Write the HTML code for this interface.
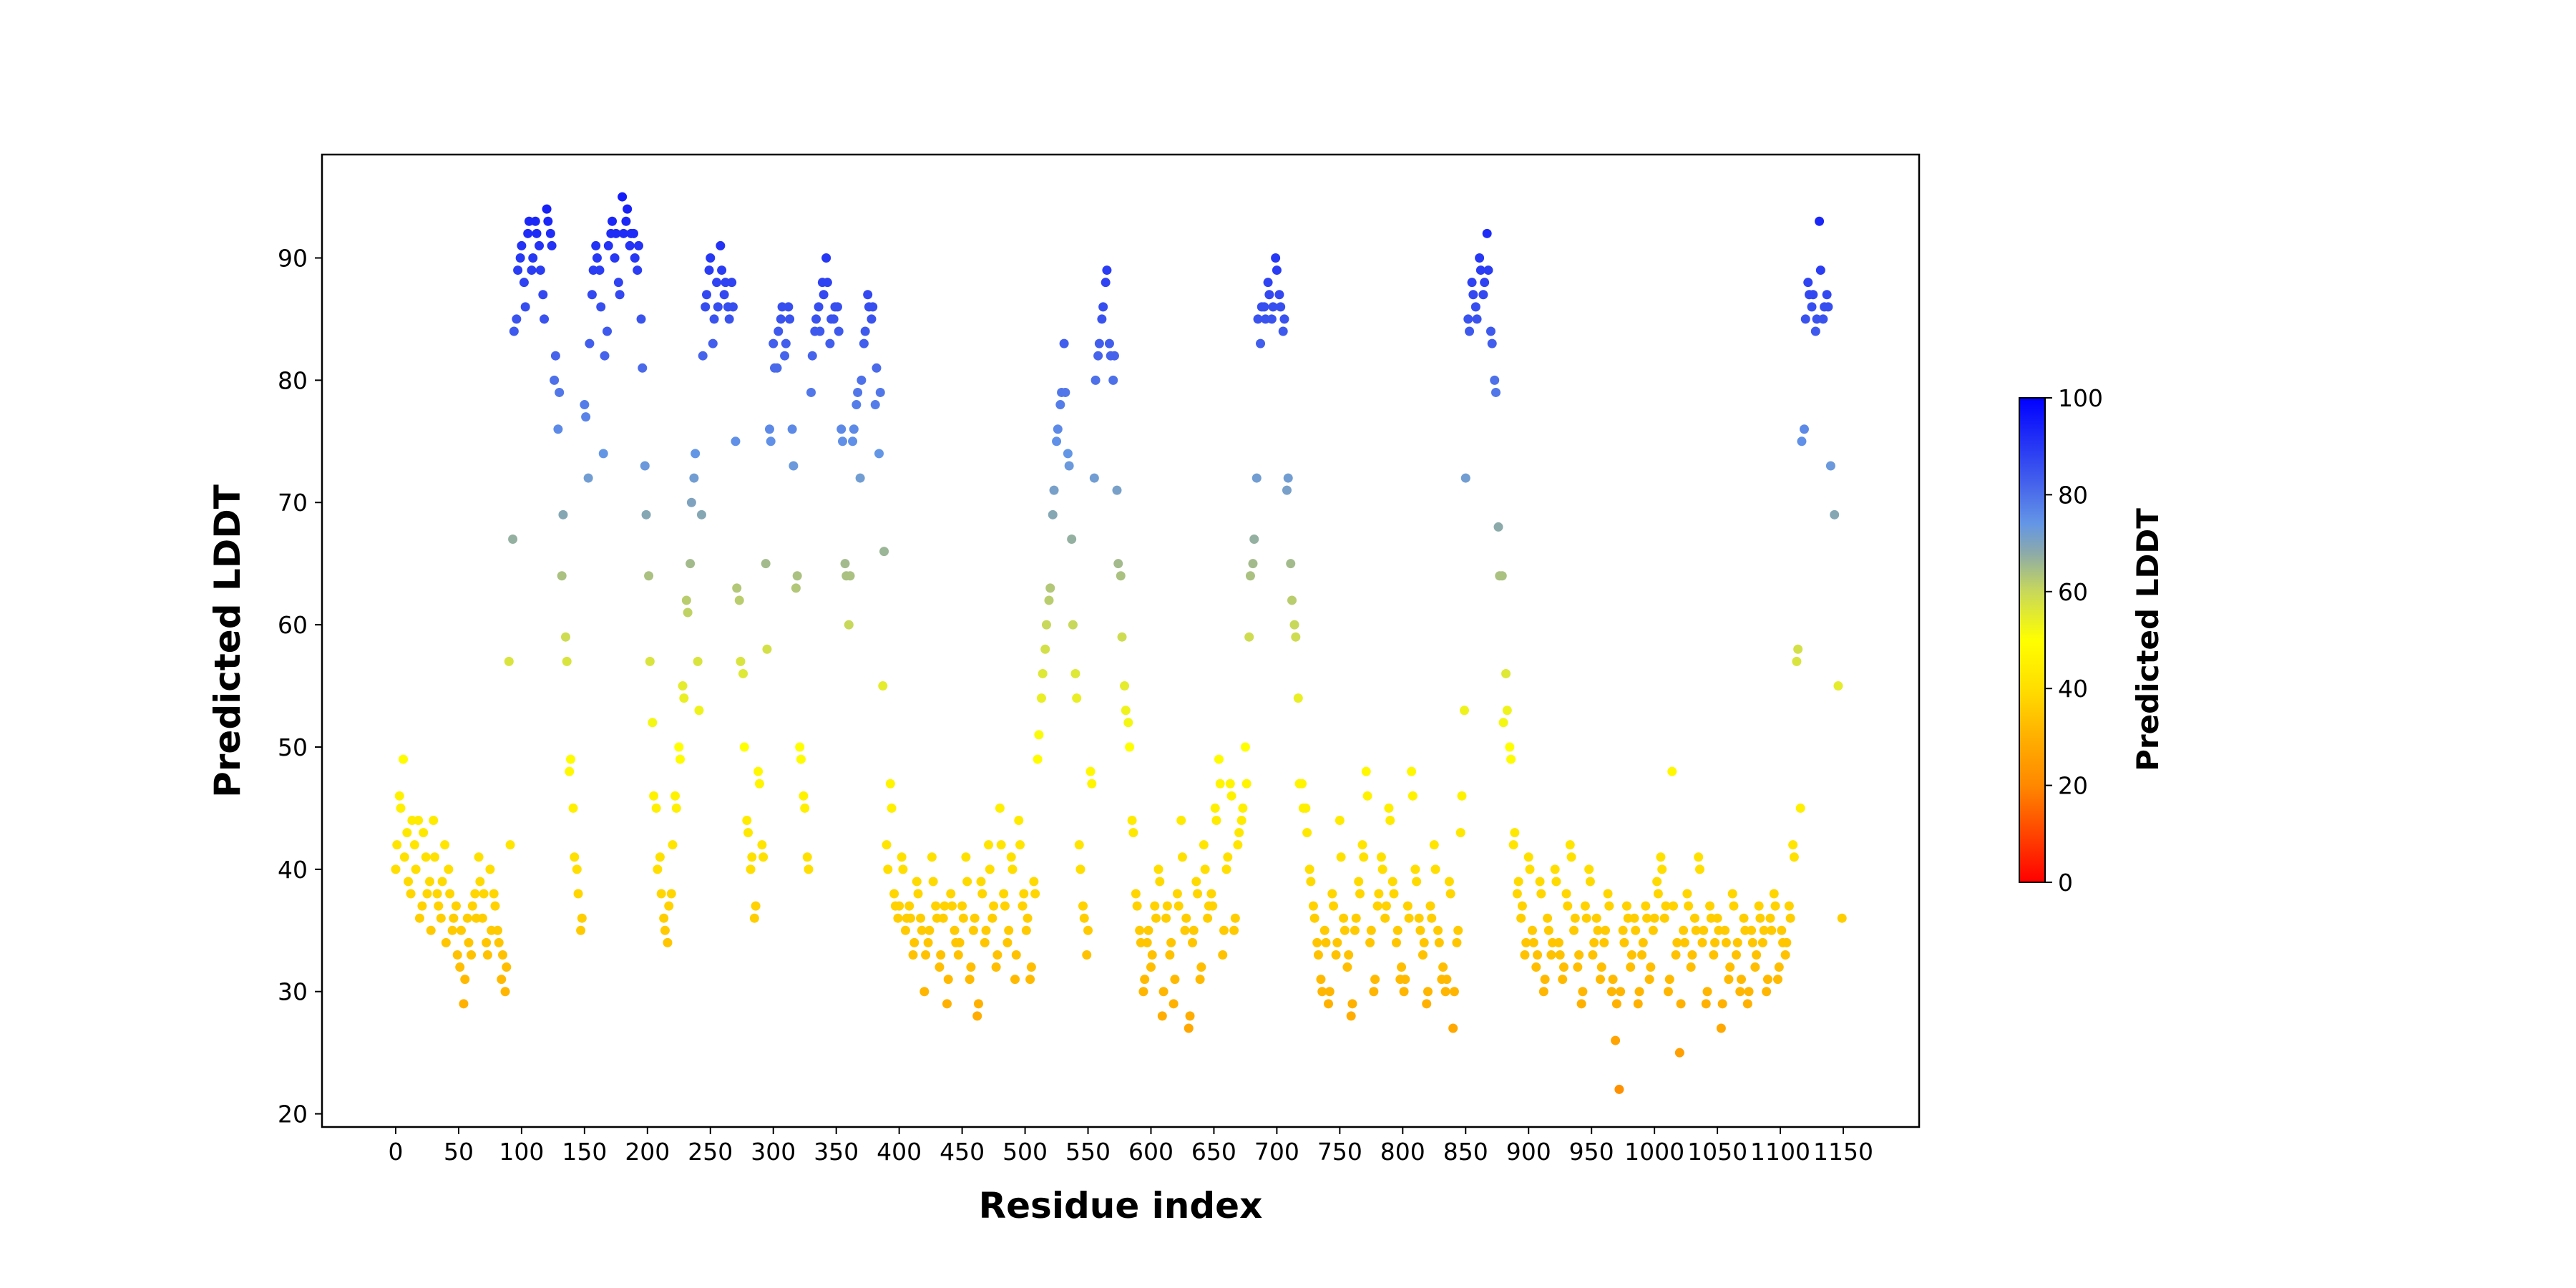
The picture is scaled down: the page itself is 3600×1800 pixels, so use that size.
<!DOCTYPE html>
<html><head><meta charset="utf-8">
<style>
html,body{margin:0;padding:0;background:#fff;}
svg{display:block;font-family:"DejaVu Sans","Liberation Sans",sans-serif;}
</style></head>
<body>
<svg id="chart" width="3600" height="1800" viewBox="0 0 3600 1800" xmlns="http://www.w3.org/2000/svg">
<defs>
<linearGradient id="cbgrad" x1="0" y1="1" x2="0" y2="0">
<stop offset="0" stop-color="#ff0000"/>
<stop offset="0.2" stop-color="#ff8800"/>
<stop offset="0.3" stop-color="#ffb000"/>
<stop offset="0.4" stop-color="#ffde00"/>
<stop offset="0.5" stop-color="#ffff00"/>
<stop offset="0.6" stop-color="#c8d85a"/>
<stop offset="0.68" stop-color="#8caaaa"/>
<stop offset="0.74" stop-color="#6496e6"/>
<stop offset="0.82" stop-color="#4664eb"/>
<stop offset="1" stop-color="#0000ff"/>
</linearGradient>
</defs>
<rect width="3600" height="1800" fill="#fff"/>
<g id="points"></g>
<rect x="450" y="216" width="2232" height="1359" fill="none" stroke="#000" stroke-width="2.5"/>
<g id="xticks"></g>
<g id="yticks"></g>
<text x="1566" y="1702" text-anchor="middle" font-size="50" font-weight="bold">Residue index</text>
<text transform="translate(335,896) rotate(-90)" text-anchor="middle" font-size="50" font-weight="bold">Predicted LDDT</text>
<rect x="2822" y="556" width="36" height="677" fill="url(#cbgrad)" stroke="#000" stroke-width="2"/>
<g id="cbticks"></g>
<text transform="translate(3016,894) rotate(-90)" text-anchor="middle" font-size="42" font-weight="bold">Predicted LDDT</text>
</svg>
<script>
const residueStep = 3;
const startA = 0;
const plddtA = [
40,46,49,43,38,42,44,37,41,39,
44,38,36,42,40,35,37,32,29,36,
33,38,41,36,34,40,38,35,31,30,
57,67,85,90,88,92,89,93,91,87,
94,92,80,76,64,59,48,45,40,35,
78,72,87,91,89,74,84,92,90,88,
95,93,91,92,89,85,73,64,52,45,
41,36,34,38,46,50,55,62,65,72,
57,69,86,89,83,88,91,87,86,88,
75,62,56,44,40,36,48,42,65,76,
83,81,85,82,86,76,63,50,46,41,
79,84,86,88,90,83,85,86,76,65,
60,75,78,72,83,87,85,78,74,55,
42,47,38,36,41,35,37,33,39,36,
30,34,41,37,32,36,29,38,35,33,
37,41,31,35,28,39,34,42,36,32,
45,38,34,41,31,44,37,35,31,39,
49,54,58,62,69,75,78,83,74,67,
56,42,37,33,48,72,82,85,88,83,
80,71,64,55,52,44,38,35,30,34,
32,37,40,28,36,33,29,38,44,35,
27,34,39,31,42,36,38,45,49,33,
40,47,35,42,44,50,59,65,72,83,
86,88,85,90,87,84,71,65,60,54,
47,45,40,37,34,31,35,29,38,33,
44,36,32,28,35,39,42,48,34,30,
37,41,36,45,39,34,31,30,37,48,
40,36,33,29,37,42,35,31,30,39,
27,34,43,53,85,88,86,90,87,92,
84,80,68,64,56,50,42,38,36,33,
41,35,32,39,30,36,33,40,34,31,
38,42,35,32,29,37,40,33,36,31,
34,38,30,26,22,35,37,32,36,29,
33,37,31,35,39,41,36,30,48,33,
25,35,38,32,36,41,34,29,37,33,
36,27,35,31,38,33,30,36,29,35,
32,37,34,30,36,38,31,35,33,37,
42,57,45,76,88,86,84,93,85,87,
73,69,55,36
];
const startB = 1;
const plddtB = [
42,45,41,39,44,40,36,43,38,35,
41,37,39,34,38,36,33,35,31,34,
37,36,39,38,33,35,37,34,33,32,
42,84,89,91,86,93,90,92,89,85,
93,91,82,79,69,57,49,41,38,36,
77,83,89,90,86,82,91,93,92,87,
92,94,92,90,91,81,69,57,46,40,
38,35,37,42,45,49,54,61,70,74,
53,82,87,90,85,86,89,88,85,86,
63,57,50,43,41,37,47,41,58,75,
81,84,86,83,85,73,64,49,45,40,
82,85,84,87,88,85,86,84,75,64,
64,76,79,80,84,86,86,81,79,66,
40,45,37,37,40,36,36,34,38,35,
33,35,39,36,33,37,31,37,34,34,
36,39,32,36,29,38,35,40,37,33,
42,37,35,40,33,42,38,36,32,38,
51,56,60,63,71,76,79,79,73,60,
54,40,36,35,47,80,83,86,89,82,
82,65,59,53,50,43,37,34,31,35,
33,36,39,30,37,34,31,37,41,36,
28,35,38,32,40,37,37,44,47,35,
41,46,36,43,45,47,64,67,85,86,
85,87,86,89,86,85,72,62,59,47,
45,43,39,36,33,30,34,30,37,34,
41,35,33,29,36,38,41,46,35,31,
38,40,37,44,38,35,32,31,36,46,
39,35,34,30,36,40,34,32,31,38,
30,35,46,72,84,87,85,89,88,89,
83,79,64,52,53,49,43,39,37,34,
40,34,33,38,31,35,34,39,33,32,
37,41,36,33,30,36,39,34,35,32,
35,37,31,29,30,34,36,33,35,30,
34,36,32,36,38,40,37,31,37,34,
29,34,37,33,35,40,35,30,36,34,
35,29,34,32,37,34,31,35,30,34,
33,36,35,31,35,37,32,34,34,36,
41,58,75,85,87,87,85,89,86,86
];
const xTickLabels = [0,50,100,150,200,250,300,350,400,450,500,550,600,650,700,750,800,850,900,950,1000,1050,1100,1150];
const yTickLabels = [20,30,40,50,60,70,80,90];
const cbTickLabels = [0,20,40,60,80,100];

const NS = "http://www.w3.org/2000/svg";
function xScale(r){ return 553 + r * (2576 - 553) / 1150; }
function yScale(v){ return 1556.6 - (v - 20) * (1556.6 - 360.5) / 70; }
function cbScale(v){ return 1233 - v * (1233 - 556) / 100; }
const stops = [[0,[255,0,0]],[20,[255,136,0]],[30,[255,182,0]],[40,[255,222,0]],[50,[255,255,0]],[60,[200,216,90]],[68,[140,170,170]],[74,[100,150,230]],[82,[70,100,235]],[100,[0,0,255]]];
function color(v){
  for (let i=0;i<stops.length-1;i++){
    const a=stops[i], b=stops[i+1];
    if (v<=b[0]){
      const t=(v-a[0])/(b[0]-a[0]);
      const c=a[1].map((x,k)=>Math.round(x+(b[1][k]-x)*t));
      return "rgb("+c.join(",")+")";
    }
  }
  return "rgb(0,0,255)";
}
const gp = document.getElementById("points");
function drawSeries(arr, start){
  arr.forEach((v,i)=>{
    const r = start + i*residueStep;
    const c = document.createElementNS(NS,"circle");
    c.setAttribute("cx", xScale(r));
    c.setAttribute("cy", yScale(v));
    c.setAttribute("r", 6.5);
    c.setAttribute("fill", color(v));
    
    
    gp.appendChild(c);
  });
}
drawSeries(plddtA, startA);
drawSeries(plddtB, startB);
const gx = document.getElementById("xticks");
xTickLabels.forEach(t=>{
  const x = xScale(t);
  const l = document.createElementNS(NS,"line");
  l.setAttribute("x1",x); l.setAttribute("x2",x);
  l.setAttribute("y1",1575); l.setAttribute("y2",1585);
  l.setAttribute("stroke","#000"); l.setAttribute("stroke-width","2");
  
  
  gx.appendChild(l);
  const tx = document.createElementNS(NS,"text");
  tx.setAttribute("x",x); tx.setAttribute("y",1621);
  tx.setAttribute("text-anchor","middle"); tx.setAttribute("font-size","33");
  tx.textContent = t;
  
  
  gx.appendChild(tx);
});
const gy = document.getElementById("yticks");
yTickLabels.forEach(t=>{
  const y = yScale(t);
  const l = document.createElementNS(NS,"line");
  l.setAttribute("x1",440); l.setAttribute("x2",450);
  l.setAttribute("y1",y); l.setAttribute("y2",y);
  l.setAttribute("stroke","#000"); l.setAttribute("stroke-width","2");
  
  
  gy.appendChild(l);
  const tx = document.createElementNS(NS,"text");
  tx.setAttribute("x",430); tx.setAttribute("y",y+12);
  tx.setAttribute("text-anchor","end"); tx.setAttribute("font-size","33");
  tx.textContent = t;
  
  
  gy.appendChild(tx);
});
const gc = document.getElementById("cbticks");
cbTickLabels.forEach(t=>{
  const y = cbScale(t);
  const l = document.createElementNS(NS,"line");
  l.setAttribute("x1",2858); l.setAttribute("x2",2868);
  l.setAttribute("y1",y); l.setAttribute("y2",y);
  l.setAttribute("stroke","#000"); l.setAttribute("stroke-width","2");
  
  
  gc.appendChild(l);
  const tx = document.createElementNS(NS,"text");
  tx.setAttribute("x",2876); tx.setAttribute("y",y+12);
  tx.setAttribute("font-size","33");
  tx.textContent = t;
  
  
  gc.appendChild(tx);
});
</script>
</body></html>
